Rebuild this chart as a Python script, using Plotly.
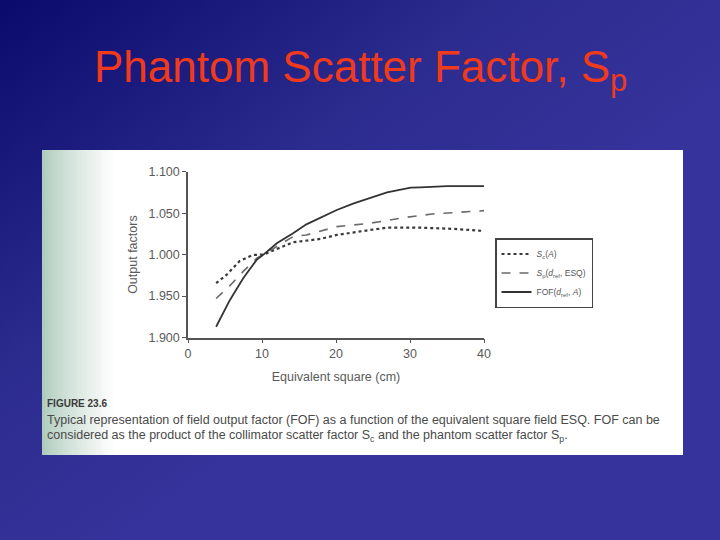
import base64
import plotly.graph_objects as go

# ---- data ----
esq_sc = [3.8, 5.2, 7.0, 8.8, 10.2, 14.2, 17.9, 20.1, 24.6, 26.9, 31.4, 35.9, 40.0]
sc_vals = [0.9655, 0.9755, 0.9924, 0.9996, 1.0, 1.0149, 1.0189, 1.0237, 1.0297, 1.0325, 1.0325, 1.031, 1.0285]

esq_sp = [3.8, 5.6, 7.5, 9.3, 10.2, 12.0, 14.2, 16.0, 20.1, 24.6, 29.2, 33.0, 35.9, 40.0]
sp_vals = [0.947, 0.962, 0.980, 0.9956, 1.0, 1.010, 1.0217, 1.0237, 1.0337, 1.0378, 1.0446, 1.049, 1.051, 1.053]

esq_fof = [3.8, 5.65, 7.46, 9.27, 10.2, 12.0, 14.2, 16.0, 20.1, 22.4, 26.9, 30.1, 31.4, 35.0, 40.0]
fof_vals = [0.913, 0.945, 0.9715, 0.9936, 1.0, 1.0137, 1.0257, 1.0365, 1.0538, 1.0618, 1.075, 1.0807, 1.0811, 1.0827, 1.0827]

y_tickvals = [0.9, 0.95, 1.0, 1.05, 1.1]
y_ticktext = ["1.900", "1.950", "1.000", "1.050", "1.100"]
x_tickvals = [0, 10, 20, 30, 40]

series_names = [
    "<i>S</i><sub>c</sub>(<i>A</i>)",
    "<i>S</i><sub>p</sub>(<i>d</i><sub>ref</sub>, ESQ)",
    "FOF(<i>d</i><sub>ref</sub>, <i>A</i>)",
]

W, H = 720, 540

def svg_uri(svg):
    return "data:image/svg+xml;base64," + base64.b64encode(svg.encode()).decode()

bg_svg = f'''<svg xmlns="http://www.w3.org/2000/svg" width="{W}" height="{H}" viewBox="0 0 {W} {H}" preserveAspectRatio="none">
<defs><linearGradient id="g" x1="0" y1="0" x2="1" y2="1">
<stop offset="0" stop-color="#0a0a6c"/><stop offset="0.35" stop-color="#2c2b8e"/>
<stop offset="0.6" stop-color="#36349c"/><stop offset="1" stop-color="#36349c"/></linearGradient></defs>
<rect width="{W}" height="{H}" fill="url(#g)"/></svg>'''

# scanned-page panel: white rectangle with a greenish fade at its left edge
PX0, PX1, PY0, PY1 = 42, 683, 150, 455
shapes = [dict(type="rect", xref="paper", yref="paper", layer="below",
               x0=PX0 / W, x1=PX1 / W, y0=1 - PY1 / H, y1=1 - PY0 / H,
               fillcolor="#ffffff", line=dict(width=0))]
fade_steps = 24
c0 = (0xaf, 0xcb, 0xbc)
for i in range(fade_steps):
    t = i / fade_steps
    k = t ** 0.8
    col = tuple(round(c + (255 - c) * k) for c in c0)
    xa = PX0 + i * 3
    shapes.append(dict(type="rect", xref="paper", yref="paper", layer="below",
                       x0=xa / W, x1=(xa + 3.2) / W, y0=1 - PY1 / H, y1=1 - PY0 / H,
                       fillcolor="rgb(%d,%d,%d)" % col, line=dict(width=0)))

fig = go.Figure()
styles = [
    dict(color="#3a3a3a", width=2.2, dash="dot"),
    dict(color="#6a6a6a", width=1.6, dash="dash"),
    dict(color="#333333", width=1.8, dash="solid"),
]
for name, xs, ys, st in zip(series_names, [esq_sc, esq_sp, esq_fof],
                            [sc_vals, sp_vals, fof_vals], styles):
    fig.add_trace(go.Scatter(x=xs, y=ys, mode="lines", name=name, line=st))

axis_font = dict(family="Liberation Sans, Arial, sans-serif", size=12.5, color="#5a5a5a")

fig.update_layout(
    width=W, height=H, autosize=False,
    margin=dict(l=0, r=0, t=0, b=0, pad=0, autoexpand=False),
    paper_bgcolor="#2c2b8e",
    plot_bgcolor="rgba(0,0,0,0)",
    images=[
        dict(source=svg_uri(bg_svg), xref="paper", yref="paper", x=0, y=1,
             sizex=1, sizey=1, sizing="stretch", layer="below", xanchor="left", yanchor="top"),
    ],
    shapes=shapes,
    xaxis=dict(domain=[188 / W, 484 / W], range=[0, 40], tickvals=x_tickvals,
               showline=True, linecolor="#555555", linewidth=1.5, ticks="outside",
               ticklen=4, tickcolor="#555555", showgrid=False, zeroline=False,
               tickfont=axis_font, automargin=False,
               title=dict(text="Equivalent square (cm)", font=axis_font, standoff=12)),
    yaxis=dict(domain=[1 - 337.5 / H, 1 - 171.7 / H], range=[0.9, 1.1],
               tickvals=y_tickvals, ticktext=y_ticktext,
               showline=True, linecolor="#555555", linewidth=1.5, ticks="outside",
               ticklen=4, tickcolor="#555555", showgrid=False, zeroline=False,
               tickfont=axis_font, automargin=False,
               title=dict(text="Output factors", font=axis_font, standoff=8)),
    legend=dict(x=495 / W, y=1 - 238 / H, xanchor="left", yanchor="top",
                bgcolor="rgba(255,255,255,0)", bordercolor="#444444", borderwidth=1.5,
                font=dict(family="Liberation Sans, Arial, sans-serif", size=8.5, color="#555555"),
                tracegroupgap=2, itemwidth=30),
    showlegend=True,
)

fig.add_annotation(text="Phantom Scatter Factor, S<sub>p</sub>", xref="paper", yref="paper",
                   x=360 / W, y=1 - 70 / H, xanchor="center", yanchor="middle", showarrow=False,
                   font=dict(family="Liberation Sans, Arial, sans-serif", size=44, color="#f03a1c"))

cap_font = dict(family="Liberation Sans, Arial, sans-serif", size=12.5, color="#4a4a4a")
fig.add_annotation(text="<b>FIGURE 23.6</b>", xref="paper", yref="paper", x=45 / W, y=1 - 403 / H,
                   xanchor="left", yanchor="middle", showarrow=False,
                   font=dict(family="Liberation Sans, Arial, sans-serif", size=10, color="#3a3a3a"))
fig.add_annotation(text="Typical representation of field output factor (FOF) as a function of the equivalent square field ESQ. FOF can be",
                   xref="paper", yref="paper", x=45 / W, y=1 - 420 / H, xanchor="left", yanchor="middle",
                   showarrow=False, font=cap_font)
fig.add_annotation(text="considered as the product of the collimator scatter factor S<sub>c</sub> and the phantom scatter factor S<sub>p</sub>.",
                   xref="paper", yref="paper", x=45 / W, y=1 - 436 / H, xanchor="left", yanchor="middle",
                   showarrow=False, font=cap_font)

post = """
var de=document.documentElement, b=document.body;
de.style.margin='0'; de.style.padding='0'; de.style.overflow='hidden';
b.style.margin='0'; b.style.padding='0'; b.style.overflow='hidden';
"""
fig.write_html("out.html", config={"displayModeBar": False}, post_script=post)
